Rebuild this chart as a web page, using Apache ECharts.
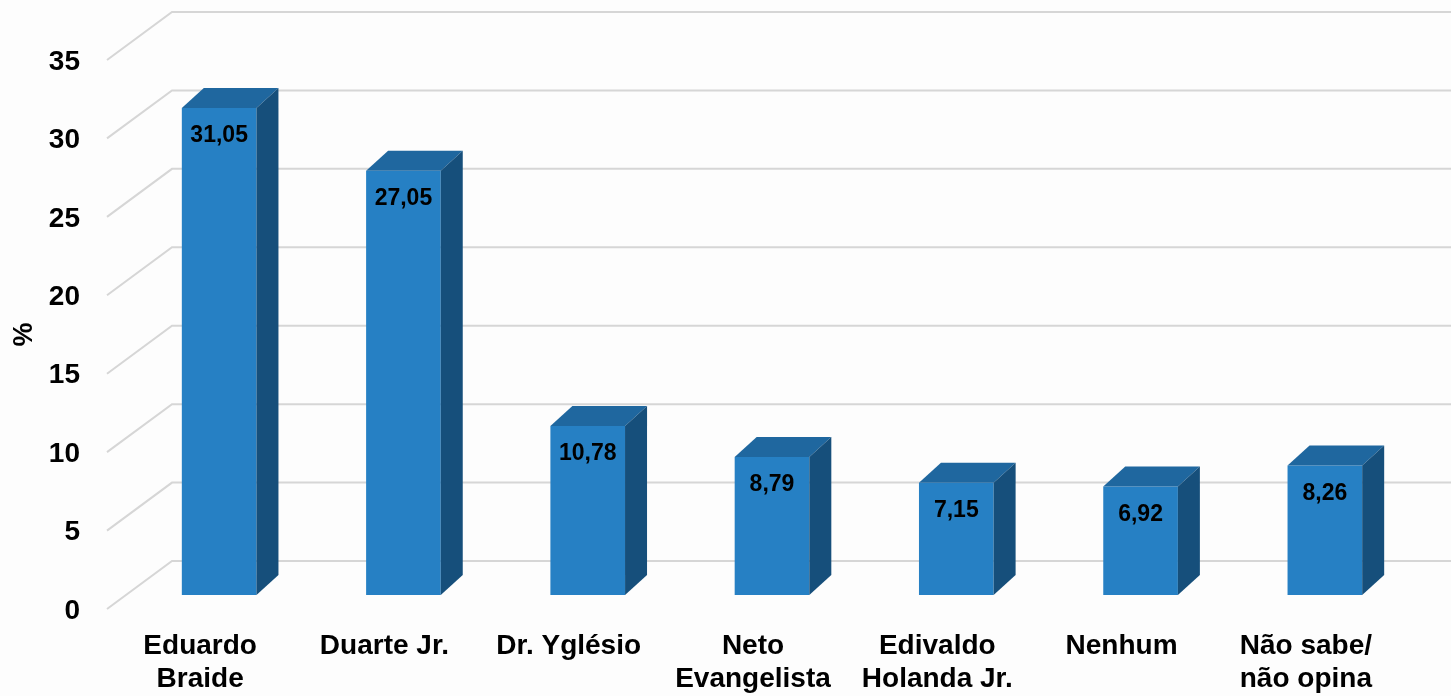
<!DOCTYPE html>
<html>
<head>
<meta charset="utf-8">
<script src="https://cdn.jsdelivr.net/npm/echarts@6/dist/echarts.min.js"></script>
<style>
  html, body { margin: 0; padding: 0; background: #fdfdfd; }
  #chart { width: 1451px; height: 696px; }
</style>
</head>
<body>
<div id="chart"></div>
<script>
const candidates = ['Eduardo\nBraide', 'Duarte Jr.', 'Dr. Yglésio', 'Neto\nEvangelista', 'Edivaldo\nHolanda Jr.', 'Nenhum', 'Não sabe/\nnão opina'];
const percents = [31.05, 27.05, 10.78, 8.79, 7.15, 6.92, 8.26];
const yTicks = [0, 5, 10, 15, 20, 25, 30, 35];

// 3d look
const depthX = 22;
const depthY = -20;
const wallShift = -34;

const chart = echarts.init(document.getElementById('chart'));

const option = {
  backgroundColor: '#fdfdfd',
  animation: false,
  grid: { left: 127, right: 34, top: 46, bottom: 99 },
  xAxis: {
    type: 'category',
    data: candidates,
    axisLine: { show: false },
    axisTick: { show: false },
    axisLabel: {
      margin: 35,
      color: '#000',
      fontFamily: 'Liberation Sans, Arial',
      fontWeight: 'bold',
      fontSize: 28,
      lineHeight: 33,
      padding: [0, 38, 0, 0],
      interval: 0
    }
  },
  yAxis: {
    type: 'value',
    min: 0,
    max: 35,
    interval: 5,
    name: '%',
    nameLocation: 'middle',
    nameRotate: 90,
    nameGap: 88,
    nameTextStyle: {
      color: '#000',
      fontFamily: 'Liberation Sans, Arial',
      fontWeight: 'bold',
      fontSize: 27,
      padding: [0, 28, 0, 0]
    },
    axisLine: { show: false },
    axisTick: { show: false },
    splitLine: { show: false },
    axisLabel: {
      margin: 47,
      color: '#000',
      fontFamily: 'Liberation Sans, Arial',
      fontWeight: 'bold',
      fontSize: 28,
      verticalAlign: 'top',
      lineHeight: 32
    }
  },
  series: [
    {
      // back wall + floor-side grid lines
      type: 'custom',
      z: 1,
      silent: true,
      data: yTicks.map(t => [0, t]),
      renderItem(params, api) {
        const cs = params.coordSys;
        const y = api.coord([0, api.value(1)])[1];
        return {
          type: 'polyline',
          shape: { points: [[cs.x - 20, y + 14], [cs.x + 45, y + wallShift], [1451, y + wallShift]] },
          style: { stroke: '#d6d6d6', lineWidth: 2, fill: null }
        };
      }
    },
    {
      type: 'custom',
      z: 2,
      data: percents.map((v, i) => [i, v]),
      renderItem(params, api) {
        const i = api.value(0);
        const v = api.value(1);
        const top = api.coord([i, v]);
        const base = api.coord([i, 0]);
        const bw = api.size([1, 0])[0] * 0.405;
        const x0 = top[0] - bw / 2;
        const x1 = top[0] + bw / 2;
        const yT = top[1];
        const yB = base[1];
        return {
          type: 'group',
          children: [
            { type: 'rect', shape: { x: x0, y: yT, width: bw, height: yB - yT }, style: { fill: '#2680c4' } },
            { type: 'polygon', shape: { points: [[x0, yT], [x1, yT], [x1 + depthX, yT + depthY], [x0 + depthX, yT + depthY]] }, style: { fill: '#1f679f' } },
            { type: 'polygon', shape: { points: [[x1, yT], [x1 + depthX, yT + depthY], [x1 + depthX, yB + depthY], [x1, yB]] }, style: { fill: '#164f7b' } },
            {
              type: 'text',
              x: top[0],
              y: yT + 28,
              style: {
                text: v.toFixed(2).replace('.', ','),
                fill: '#000',
                font: 'bold 23px "Liberation Sans", Arial',
                align: 'center',
                verticalAlign: 'middle'
              }
            }
          ]
        };
      }
    }
  ]
};

chart.setOption(option);
</script>
</body>
</html>
